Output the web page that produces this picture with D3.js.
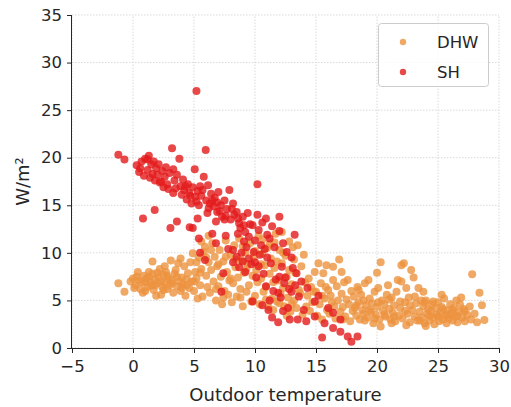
<!DOCTYPE html>
<html><head><meta charset="utf-8">
<script src="https://cdn.jsdelivr.net/npm/d3@7"></script>
<style>body{margin:0;background:#fff}svg{display:block}</style>
</head><body>
<script>
const seriesNames = ["DHW", "SH"];
const xTicks = [-5, 0, 5, 10, 15, 20, 25, 30];
const yTicks = [0, 5, 10, 15, 20, 25, 30, 35];
// DHW: [outdoor temperature, W/m²]
const dhwPoints = [
[-1.2,6.8],[-0.7,5.9],[0.0,7.3],[0.3,7.5],[0.2,6.6],[0.5,7.1],[0.6,6.2],[0.8,5.8],[0.9,7.6],[1.0,6.9],[1.1,7.3],[1.2,6.4],[1.3,8.0],[1.4,7.0],[1.5,6.6],[1.6,9.1],[1.6,7.8],[1.7,6.1],[1.8,7.2],[1.9,5.5],[2.0,6.8],[2.1,7.5],[2.2,8.3],[2.3,5.6],[2.3,7.0],[2.4,6.4],[2.5,7.7],[2.6,6.9],[2.7,8.0],[2.8,6.2],[2.9,7.3],[3.0,6.6],[3.1,9.2],[3.2,7.1],[3.3,5.8],[3.4,7.8],[3.5,8.2],[3.6,6.5],[3.7,8.9],[3.8,7.0],[3.9,6.0],[4.0,7.4],[4.1,6.7],[4.2,8.6],[4.3,5.5],[4.4,7.2],[4.5,7.85],[4.6,6.3],[4.7,9.0],[4.8,7.0],[4.9,9.96],[5.0,6.0],[5.1,8.0],[5.2,7.3],[5.3,5.2],[5.4,9.5],[5.5,6.6],[5.6,8.3],[5.7,5.4],[5.8,10.1],[5.9,10.65],[6.0,7.6],[6.1,6.4],[6.2,9.0],[6.3,5.8],[6.4,8.2],[6.5,11.0],[6.6,7.0],[6.7,9.6],[6.8,5.0],[6.9,8.6],[7.0,6.5],[7.1,10.3],[7.2,7.5],[7.3,4.6],[7.4,9.1],[7.5,6.0],[7.6,11.3],[7.7,8.0],[7.8,5.6],[7.9,7.1],[8.0,9.8],[8.1,4.8],[8.2,6.8],[8.3,10.8],[8.4,8.5],[8.5,5.4],[8.6,7.4],[8.7,11.5],[8.8,6.2],[8.9,9.2],[9.0,4.4],[9.1,7.9],[9.2,10.0],[9.3,5.9],[9.4,8.8],[9.5,6.6],[9.6,11.0],[9.7,4.9],[9.8,7.6],[9.9,9.5],[10.0,5.5],[10.1,8.2],[10.2,6.9],[10.3,11.8],[10.4,4.6],[10.5,7.3],[10.6,9.9],[10.7,5.9],[10.8,8.7],[10.9,6.4],[11.0,10.5],[11.1,4.3],[11.2,7.8],[11.3,9.4],[11.4,5.2],[11.5,6.9],[11.6,8.4],[11.7,12.0],[11.8,4.9],[11.9,7.1],[12.0,10.3],[12.1,5.7],[12.2,8.9],[12.3,6.3],[12.4,4.4],[12.5,9.7],[12.6,7.5],[12.7,5.3],[12.8,8.2],[12.9,3.8],[13.0,6.7],[13.1,10.6],[13.2,5.0],[13.3,7.9],[13.4,4.2],[13.5,10.8],[13.6,6.1],[13.7,5.75],[13.8,8.6],[13.9,3.5],[14.0,9.8],[14.1,6.9],[14.2,4.35],[14.3,5.5],[14.4,7.3],[14.5,3.9],[14.6,6.4],[14.7,4.8],[14.9,8.0],[15.0,5.9],[15.1,3.4],[15.2,8.9],[15.3,4.6],[15.4,6.8],[15.5,3.0],[15.6,7.85],[15.7,5.2],[15.85,8.7],[15.9,4.0],[16.0,6.1],[16.1,3.6],[16.2,5.5],[16.4,8.55],[16.4,7.15],[16.5,4.4],[16.6,3.1],[16.7,6.5],[16.8,5.0],[16.9,9.3],[17.0,3.8],[17.1,5.7],[17.2,4.3],[17.3,6.9],[17.4,3.3],[17.5,5.1],[17.6,7.15],[17.7,4.6],[17.8,2.8],[17.9,6.0],[18.0,3.9],[18.1,5.4],[18.2,4.2],[18.3,3.4],[18.4,6.4],[18.5,4.8],[18.6,3.0],[18.7,5.6],[18.8,4.0],[18.9,3.6],[19.0,6.8],[19.1,4.5],[19.2,3.2],[19.3,7.15],[19.4,5.2],[19.5,3.8],[19.6,4.7],[19.7,2.6],[19.8,5.9],[19.9,3.5],[20.0,4.3],[20.1,6.3],[20.2,3.0],[20.3,9.0],[20.3,2.25],[20.4,5.0],[20.5,3.9],[20.6,4.6],[20.7,3.3],[20.8,5.6],[20.9,6.6],[21.0,4.1],[21.1,3.0],[21.2,5.3],[21.3,3.7],[21.4,4.5],[21.5,2.8],[21.6,5.9],[21.7,7.15],[21.8,3.4],[21.9,4.2],[22.0,8.7],[22.0,7.0],[22.1,3.1],[22.2,8.9],[22.3,4.8],[22.4,6.3],[22.5,3.6],[22.6,5.3],[22.7,2.7],[22.8,8.2],[22.9,4.0],[23.0,7.4],[23.1,3.3],[23.2,4.7],[23.3,2.9],[23.4,6.3],[23.5,3.8],[23.6,5.0],[23.7,3.2],[23.8,4.4],[23.9,2.6],[24.0,5.0],[24.1,3.6],[24.2,4.1],[24.3,2.9],[24.4,3.9],[24.5,4.6],[24.6,3.2],[24.7,2.5],[24.8,4.2],[24.9,3.5],[25.0,4.8],[25.1,2.8],[25.2,3.7],[25.3,4.3],[25.4,3.0],[25.5,5.2],[25.6,3.4],[25.7,2.6],[25.8,4.0],[25.9,3.1],[26.0,4.6],[26.1,3.6],[26.2,2.9],[26.3,4.2],[26.4,3.3],[26.5,5.0],[26.6,2.7],[26.7,3.8],[26.9,5.3],[27.0,3.2],[27.1,4.1],[27.2,2.8],[27.4,3.5],[27.6,4.35],[27.7,3.0],[27.8,7.75],[28.0,3.6],[28.2,2.7],[28.4,5.8],[28.6,4.5],[28.8,2.95],
[18.3,4.5],[18.9,5.0],[19.4,4.0],[19.8,3.1],[20.1,4.8],[20.6,3.5],[21.0,5.1],[21.4,3.3],[21.9,4.9],[22.3,3.9],[22.7,4.5],[23.1,5.4],[23.5,2.9],[23.9,4.8],[24.3,3.4],[24.6,4.9],[25.0,3.3],[25.4,4.1],[25.8,3.5],[26.2,4.0],[26.6,3.4],[27.2,3.9],[17.2,3.0],[16.3,4.8],[15.8,6.4],[15.5,5.5],[14.8,5.9],[19.0,2.9],[21.2,2.6],[22.4,2.4],[24.0,2.3],[20.0,7.9],[17.1,8.0],[18.5,6.1],[23.8,5.9],[25.3,5.6],[26.8,4.6],
[0.4,8.0],[0.7,6.9],[1.0,6.0],[1.3,7.5],[1.8,6.6],[2.0,7.9],[2.5,6.1],[2.8,7.6],[3.2,6.8],[3.6,7.5],[4.0,6.3],[4.4,6.6],[5.0,7.0],[5.5,7.9],[-0.2,7.0],[0.1,6.3],[2.6,8.6],[3.9,9.4],
[6.0,9.5],[6.4,10.3],[7.0,8.8],[7.6,9.6],[8.0,7.3],[8.4,9.3],[9.0,10.7],[9.3,8.3],[10.0,10.2],[10.5,8.8],[11.2,10.9],[11.8,9.1],[12.3,10.0],[12.8,11.2],[13.2,9.3],[6.8,6.2],[7.4,5.3],[8.8,5.3],[9.8,5.0],[10.9,5.1],[11.5,4.0],[12.0,4.7],[12.6,3.4],[13.0,4.6],[5.2,9.0],[5.6,11.2],[6.2,11.8],[10.6,11.4],[11.6,11.1],[12.2,12.2]
];
// SH: [outdoor temperature, W/m²]
const shPoints = [
[-1.2,20.3],[-0.7,19.8],[0.3,19.2],[0.5,18.5],[0.7,19.6],[0.9,18.1],[1.0,19.9],[1.2,18.7],[1.2,19.8],[1.4,17.9],[1.5,19.3],[1.6,18.3],[1.7,19.6],[1.8,17.6],[1.9,18.9],[2.0,18.2],[2.1,19.3],[2.2,17.4],[2.3,17.5],[2.4,18.6],[2.5,16.9],[2.6,18.0],[2.8,17.2],[2.9,16.7],[3.0,18.4],[3.2,21.0],[3.3,16.3],[3.4,17.6],[3.5,16.8],[3.6,18.2],[3.8,19.9],[3.9,17.0],[4.0,16.1],[4.1,17.7],[4.2,16.6],[4.4,15.6],[4.5,17.2],[4.6,16.3],[4.8,15.2],[4.9,16.9],[5.06,18.8],[5.1,15.9],[5.2,27.0],[5.3,16.5],[5.4,15.0],[5.5,17.0],[5.6,16.0],[5.8,18.0],[5.96,20.8],[6.0,15.5],[6.15,17.1],[6.2,14.7],[6.3,15.2],[6.4,16.2],[6.6,14.9],[6.7,15.8],[6.9,14.3],[7.0,16.4],[7.2,15.0],[7.3,13.8],[7.5,15.5],[7.7,14.6],[7.9,16.6],[8.0,13.5],[8.2,15.2],[8.3,14.0],[8.5,14.3],[8.7,13.1],[8.8,12.6],[9.0,13.8],[9.2,12.2],[9.4,14.2],[9.5,11.7],[9.6,13.0],[9.8,12.9],[10.0,11.3],[10.2,17.2],[10.2,14.0],[10.3,12.4],[10.5,10.8],[10.6,13.2],[10.9,13.6],[11.0,11.9],[11.2,11.5],[11.4,12.8],[11.6,10.6],[12.0,13.8],[12.0,12.3],[12.3,11.0],[12.6,10.1],[13.25,11.9],[13.0,9.5],
[0.82,13.6],[1.78,14.5],[3.07,12.6],[3.6,13.3],[4.65,12.7],[4.9,12.6],[5.3,13.6],[5.4,11.5],[5.5,10.0],[5.9,9.25],[6.8,13.3],[7.5,13.5],[6.5,12.0],
[7.25,5.9],[7.4,7.85],[7.8,10.4],[8.2,9.0],[8.2,10.3],[8.5,9.6],[8.7,8.5],[8.9,10.0],[9.0,9.1],[9.2,8.0],[9.3,10.6],[9.5,9.4],[9.7,8.8],[9.8,4.9],[9.9,10.1],[10.0,9.0],[10.1,7.4],[10.3,8.6],[10.4,9.8],[10.6,4.5],[10.7,7.8],[10.9,6.5],[11.1,4.0],[11.2,5.0],[11.3,8.9],[11.5,6.0],[11.7,7.2],[11.9,5.8],[12.2,8.55],[12.4,6.8],[12.7,4.2],[12.8,6.2],[12.85,3.0],[13.1,8.4],[13.4,7.85],[13.5,3.0],[13.6,5.4],[14.0,4.0],[14.2,2.8],[14.3,6.3],[14.9,4.9],[14.9,3.3],[15.2,5.5],[15.5,1.1],[15.7,2.6],[16.0,4.2],[16.4,3.7],[16.4,2.1],[17.0,3.0],[17.0,1.7],[17.6,1.2],[17.9,0.65],[18.4,1.2],[13.0,5.9],[12.0,7.5],[11.0,9.5],[10.8,10.4],[6.8,11.0],[7.6,11.8],[8.6,12.0],[9.1,11.2],
[12.1,5.3],[12.5,7.4],[13.3,6.6],[13.8,7.0],[11.4,3.2],[11.9,2.7],[12.3,3.9],
[4.3,17.0],[4.7,16.0],[5.2,15.4],[5.7,16.6],[6.1,14.2],[6.5,15.5],[6.9,15.3],[7.1,14.4],[7.6,13.9],[8.1,14.6],[8.6,13.6],[9.1,12.9],[2.7,19.0],[3.3,18.8],[0.6,18.9],[1.3,20.2]
];
const colors = ["#ec923e", "#e31a1c"];

const W = 511, H = 407;
const svg = d3.select("body").append("svg").attr("width", W).attr("height", H);
const x = d3.scaleLinear().domain([-5, 30]).range([72, 499]);
const y = d3.scaleLinear().domain([0, 35]).range([348, 15]);
const font = "DejaVu Sans, sans-serif";
const ink = "#262626";

// grid
const g = svg.append("g");
g.selectAll(".gx").data(xTicks).join("line")
  .attr("x1", d => x(d)).attr("x2", d => x(d)).attr("y1", y(0)).attr("y2", y(35))
  .attr("stroke", "#d9d9d9").attr("stroke-width", 1).attr("stroke-dasharray", "1.5,1.5");
g.selectAll(".gy").data(yTicks).join("line")
  .attr("x1", x(-5)).attr("x2", x(30)).attr("y1", d => y(d)).attr("y2", d => y(d))
  .attr("stroke", "#d9d9d9").attr("stroke-width", 1).attr("stroke-dasharray", "1.5,1.5");

// points
[dhwPoints, shPoints].forEach((pts, i) => {
  svg.append("g").selectAll("circle").data(pts).join("circle")
    .attr("cx", d => x(d[0])).attr("cy", d => y(d[1])).attr("r", 4)
    .attr("fill", colors[i]).attr("fill-opacity", 0.8);
});

// axes
const xAxis = svg.append("g").attr("transform", `translate(0,${y(0)})`)
  .call(d3.axisBottom(x).tickValues(xTicks).tickSize(5).tickPadding(7)
    .tickFormat(d => d < 0 ? "\u2212" + Math.abs(d) : d));
const yAxis = svg.append("g").attr("transform", `translate(${x(-5)},0)`)
  .call(d3.axisLeft(y).tickValues(yTicks).tickSize(5).tickPadding(5));
[xAxis, yAxis].forEach(a => {
  a.selectAll("text").attr("font-family", font).attr("font-size", 16.5).attr("fill", ink);
  a.selectAll("line").attr("stroke", ink);
  a.select(".domain").attr("stroke", ink);
});
xAxis.select(".domain").attr("d", `M${x(-5)},0.5H${x(30)}`);
yAxis.select(".domain").attr("d", `M-0.5,${y(0)}V${y(35)}`);

svg.append("text").attr("x", (x(-5) + x(30)) / 2).attr("y", 401)
  .attr("text-anchor", "middle").attr("font-family", font).attr("font-size", 18).attr("fill", ink)
  .text("Outdoor temperature");
svg.append("text").attr("transform", `translate(29,${(y(0) + y(35)) / 2}) rotate(-90)`)
  .attr("text-anchor", "middle").attr("font-family", font).attr("font-size", 18).attr("fill", ink)
  .text("W/m²");

// legend
const lg = svg.append("g");
lg.append("rect").attr("x", 378.5).attr("y", 23.5).attr("width", 110).attr("height", 63).attr("rx", 3)
  .attr("fill", "#fff").attr("fill-opacity", 0.8).attr("stroke", "#cccccc");
seriesNames.forEach((n, i) => {
  lg.append("circle").attr("cx", 403).attr("cy", 42 + i * 30).attr("r", 3.2)
    .attr("fill", colors[i]).attr("fill-opacity", 0.8);
  lg.append("text").attr("x", 437).attr("y", 48 + i * 30).attr("font-family", font)
    .attr("font-size", 16.5).attr("fill", ink).text(n);
});
</script>
</body></html>
